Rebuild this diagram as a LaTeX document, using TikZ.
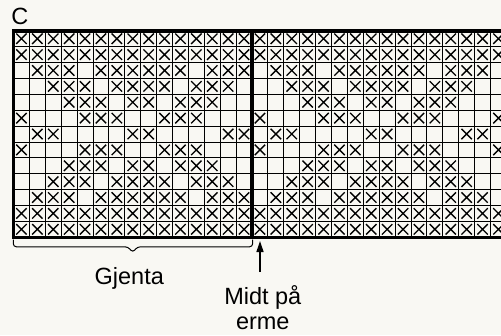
\documentclass[tikz,border=0pt]{standalone}
\usepackage{fontspec}
\setmainfont{Liberation Sans}
\usetikzlibrary{arrows.meta}
\definecolor{bg}{RGB}{249,248,243}
\begin{document}
\begin{tikzpicture}[x=1pt,y=-1pt,
  thin grid/.style={line width=0.9pt,black},
  thick border/.style={line width=3.4pt,black},
  xmark/.style={line width=1.35pt,black},
  lbl/.style={font=\fontsize{23.5}{24.7}\selectfont,inner sep=0pt}]
\useasboundingbox (0,0) rectangle (501,335);
\fill[bg] (0,0) rectangle (501,335);
\def\gx{13.5}\def\gy{30.8}\def\cw{15.9}\def\ch{15.88}
\begin{scope}
\clip (0,0) rectangle (501,335);
% crosses
\foreach \r/\cols in {
  1/{1,2,3,4,5,6,7,8,9,10,11,12,13,14,15},
  2/{1,2,3,4,5,6,7,8,9,10,11,12,13,14,15},
  3/{2,3,4,6,7,8,9,10,11,13,14,15},
  4/{3,4,5,7,8,9,10,12,13,14},
  5/{4,5,6,8,9,11,12,13},
  6/{1,5,6,7,10,11,12},
  7/{2,3,8,9,14,15},
  8/{1,5,6,7,10,11,12},
  9/{4,5,6,8,9,11,12,13},
  10/{3,4,5,7,8,9,10,12,13,14},
  11/{2,3,4,6,7,8,9,10,11,13,14,15},
  12/{1,2,3,4,5,6,7,8,9,10,11,12,13,14,15},
  13/{1,2,3,4,5,6,7,8,9,10,11,12,13,14,15}}{
  \foreach \c in \cols {
    \foreach \k in {0,15,30}{
      \pgfmathsetmacro\cx{\gx+\cw*(\c+\k-0.5)}
      \pgfmathsetmacro\cy{\gy+\ch*(\r-0.5)}
      \draw[xmark] (\cx-5.2,\cy-5.2) -- (\cx+5.2,\cy+5.2)
                   (\cx-5.2,\cy+5.2) -- (\cx+5.2,\cy-5.2);
    }
  }
}
% thin grid lines
\foreach \i in {1,...,31}{
  \pgfmathsetmacro\vx{\gx+\cw*\i}
  \draw[thin grid] (\vx,\gy) -- (\vx,\gy+13*\ch);
}
\foreach \j in {1,...,12}{
  \pgfmathsetmacro\hy{\gy+\ch*\j}
  \draw[thin grid] (\gx,\hy) -- (510,\hy);
}
% thick borders
\draw[thick border] (\gx,\gy+13*\ch) -- (\gx,\gy) -- (510,\gy);
\draw[thick border] (\gx-1.7,\gy+13*\ch) -- (510,\gy+13*\ch);
\draw[thick border] (\gx+15*\cw,\gy) -- (\gx+15*\cw,\gy+13*\ch);
\end{scope}
% brace
\draw[line width=1pt,rounded corners=3pt]
  (13.3,239.5) -- (13.3,246.8) -- (128,246.8) -- (132.7,252.5)
  -- (137.4,246.8) -- (252.6,246.8) -- (252.6,239.5);
% arrow
\coordinate (atail) at (260,272);
\coordinate (ahead) at (260,241);
\draw[line width=1.3pt,-{Triangle[length=11pt,width=7pt]}] (atail) -- (ahead);
% labels
\node[lbl,anchor=base west] (c) at (11.3,24) {C};
\node[lbl,anchor=base] (gjenta) at (129.3,284.3) {Gjenta};
\node[lbl,anchor=base,align=center] (midt) at (262.8,329) {Midt på\\erme};
\end{tikzpicture}
\end{document}
